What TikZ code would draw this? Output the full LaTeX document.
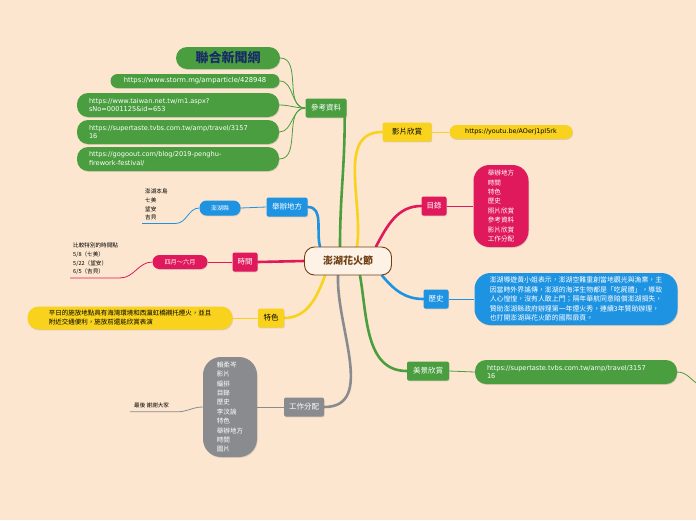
\documentclass[tikz,border=0pt]{standalone}
\usepackage{fontspec}
\setmainfont{Noto Sans CJK TC}
\newfontfamily\urlfont{DejaVu Sans}
\usetikzlibrary{positioning, shadows, backgrounds}

\definecolor{bgpeach}{HTML}{FCE6CF}
\definecolor{hubbrown}{HTML}{6E3F14}
\definecolor{mmgreen}{HTML}{4A9E3F}
\definecolor{mmyellow}{HTML}{F8D21C}
\definecolor{mmpink}{HTML}{E0195C}
\definecolor{mmblue}{HTML}{1E93E2}
\definecolor{mmgray}{HTML}{8A8B8F}
\definecolor{navy}{HTML}{172C66}

\begin{document}
\begin{tikzpicture}[
  x=1pt, y=-1pt,
  hub/.style = {draw=hubbrown, line width=0.9pt, fill=bgpeach!50!white, rounded corners=10pt,
                minimum width=87pt, minimum height=28pt, text=hubbrown,
                font=\fontsize{10}{11}\selectfont\bfseries},
  topic/.style = {rounded corners=2pt, minimum height=19pt, inner xsep=3pt, text=white,
                  font=\fontsize{7.5}{9}\selectfont,
                  drop shadow={opacity=0.25, shadow xshift=0.6pt, shadow yshift=-0.9pt}},
  pill/.style = {rounded corners=7pt, minimum height=14pt, inner xsep=6pt, text=white,
                 font=\urlfont\fontsize{6.8}{8.6}\selectfont,
                 drop shadow={opacity=0.25, shadow xshift=0.6pt, shadow yshift=-0.9pt}},
  urlbox/.style = {pill, rounded corners=11pt, minimum width=202pt, minimum height=24pt,
                   text width=178pt, align=left, inner xsep=12pt,
                   font=\urlfont\fontsize{6.6}{8.8}\selectfont},
  listbox/.style = {pill, rounded corners=16pt, align=left, inner xsep=8pt,
                    font=\fontsize{6.6}{9.4}\selectfont},
  note/.style = {align=left, inner sep=0pt, font=\fontsize{5.6}{8.6}\selectfont},
  branch/.style = {line width=2.6pt, line cap=round},
  twig/.style = {line width=0.8pt},
]
  \useasboundingbox (0,0) rectangle (696,520);
  \begin{scope}[on background layer]
    \fill[bgpeach] (0,0) rectangle (696,520);
  \end{scope}

  % centre
  \node[hub] (fest) at (348,261) {澎湖花火節};

  % references
  \node[topic, fill=mmgreen, minimum width=41pt] (refs) at (326,108) {參考資料};
  \node[pill, fill=mmgreen, minimum width=104pt, minimum height=22pt, rounded corners=11pt,
        text=navy, font=\fontsize{13}{15}\selectfont\bfseries] (udn) at (228,58) {聯合新聞網};
  \node[pill, fill=mmgreen, minimum width=169pt] (storm) at (195,81) {https://www.storm.mg/amparticle/428948};
  \node[urlbox, fill=mmgreen] (taiwan) at (178,105) {https://www.taiwan.net.tw/m1.aspx?\\sNo=0001125\&id=653};
  \node[urlbox, fill=mmgreen] (tvbs) at (178,132) {https://supertaste.tvbs.com.tw/amp/travel/3157\\16};
  \node[urlbox, fill=mmgreen] (gogo) at (178,159) {https://gogoout.com/blog/2019-penghu-\\firework-festival/};

  % video
  \node[topic, fill=mmyellow, text=black, minimum width=49pt] (video) at (407,132) {影片欣賞};
  \node[pill, fill=mmyellow, text=black, minimum width=123pt, font=\urlfont\fontsize{6.4}{8}\selectfont] (yt) at (511,132) {https://youtu.be/AOerj1pI5rk};

  % contents
  \node[topic, fill=mmpink, minimum width=25pt] (toc) at (434,206) {目錄};
  \node[listbox, fill=mmpink, minimum width=55pt, minimum height=82pt] (toclist) at (501,206)
    {舉辦地方\\時間\\特色\\歷史\\照片欣賞\\參考資料\\影片欣賞\\工作分配};

  % history
  \node[topic, fill=mmblue, minimum width=25pt] (hist) at (436,299) {歷史};
  \node[listbox, fill=mmblue, minimum width=203pt, minimum height=52pt, inner xsep=13pt,
        font=\fontsize{6.9}{9.6}\selectfont] (histtxt) at (576,299)
    {澎湖導遊黃小姐表示，澎湖空難重創當地觀光與漁業，主\\因當時外界謠傳，澎湖的海洋生物都是「吃屍體」，導致\\人心惶惶，沒有人敢上門；隔年華航同意賠償澎湖損失，\\贊助澎湖縣政府辦理第一年煙火秀，連續3年贊助辦理，\\也打開澎湖與花火節的國際扉頁。};

  % scenery
  \node[topic, fill=mmgreen, minimum width=42pt] (view) at (428,371) {美景欣賞};
  \node[urlbox, fill=mmgreen] (viewurl) at (576,372) {https://supertaste.tvbs.com.tw/amp/travel/3157\\16};
  \coordinate (offright) at (702,386);

  % place
  \node[topic, fill=mmblue, minimum width=41pt] (place) at (287,207) {舉辦地方};
  \node[pill, fill=mmblue, minimum width=41pt, minimum height=15pt, font=\fontsize{6}{7}\selectfont] (county) at (220,208) {澎湖縣};
  \node[note, anchor=north west] (islands) at (145,189) {澎湖本島\\七美\\望安\\吉貝};

  % time
  \node[topic, fill=mmpink, minimum width=25pt] (time) at (245,262) {時間};
  \node[pill, fill=mmpink, minimum width=55pt, font=\fontsize{6.2}{7}\selectfont] (months) at (180,262) {四月～六月};
  \node[note, anchor=north west] (dates) at (73,243) {比較特別的時間點\\5/8（七美）\\5/22（望安）\\6/5（吉貝）};

  % features
  \node[topic, fill=mmyellow, text=black, minimum width=26pt] (feat) at (271,318) {特色};
  \node[listbox, fill=mmyellow, text=black, minimum width=205pt, minimum height=23pt, rounded corners=11pt,
        inner xsep=14pt, font=\fontsize{6.5}{9}\selectfont] (feattxt) at (130,318)
    {平日的施放地點具有海灣環境和西瀛虹橋襯托煙火，並且\\附近交通便利，施放前還能欣賞表演};

  % work
  \node[topic, fill=mmgray, minimum width=40pt] (work) at (304,407) {工作分配};
  \node[listbox, fill=mmgray, minimum width=54pt, minimum height=100pt, rounded corners=18pt] (worklist) at (230,407)
    {賴柔岑\\影片\\編排\\目錄\\歷史\\李汶諭\\特色\\舉辦地方\\時間\\圖片};
  \node[note, anchor=west] (thanks) at (134,405) {最後 謝謝大家};

  \begin{scope}[on background layer]
    % main branches
    \draw[branch, mmgreen] ([xshift=-8pt]fest.north) to[out=90,in=-90] ([xshift=-2pt]refs.south east);
    \draw[branch, mmyellow] ([xshift=9pt]fest.north) to[out=82,in=180] (video.west);
    \draw[branch, mmpink] ([xshift=28pt]fest.north) to[out=62,in=180] (toc.west);
    \draw[branch, mmblue] ([xshift=-10pt]fest.south east) to[out=-50,in=180] (hist.west);
    \draw[branch, mmgreen] ([xshift=12pt]fest.south) to[out=-80,in=180] (view.west);
    \draw[branch, mmgray] ([xshift=-10pt]fest.south) to[out=-92,in=0] (work.east);
    \draw[branch, mmyellow] ([xshift=-23pt]fest.south) to[out=-110,in=0] (feat.east);
    \draw[branch, mmpink] (fest.west) -- (time.east);
    \draw[branch, mmblue] ([xshift=-28pt]fest.north) to[out=105,in=0] (place.east);

    % twigs
    \foreach \leaf in {udn, storm, taiwan, tvbs, gogo}
      \draw[twig, mmgreen] (refs.west) to[out=180,in=0] (\leaf.east);
    \draw[twig, mmyellow] (video.east) -- (yt.west);
    \draw[twig, mmpink] (toc.east) -- (toclist.west);
    \draw[twig, mmblue] (hist.east) -- (histtxt.west);
    \draw[twig, mmgreen] (view.east) -- (viewurl.west);
    \draw[twig, mmgreen] (viewurl.east) to[out=0,in=160] (offright);
    \draw[twig, mmblue] (place.west) -- (county.east);
    \draw[twig, mmblue] (county.west) to[out=180,in=0] ([xshift=8pt,yshift=-3pt]islands.south east)
      -- ([xshift=-3pt,yshift=-3pt]islands.south west);
    \draw[twig, mmpink] (time.west) -- (months.east);
    \draw[twig, mmpink] (months.west) to[out=180,in=0] ([xshift=2pt,yshift=-3pt]dates.south east)
      -- ([xshift=-3pt,yshift=-3pt]dates.south west);
    \draw[twig, mmyellow] (feat.west) -- (feattxt.east);
    \draw[twig, mmgray] (work.west) -- (worklist.east);
    \draw[twig, mmgray] (worklist.west) to[out=180,in=0] ([xshift=8pt,yshift=-4pt]thanks.south east)
      -- ([xshift=-4pt,yshift=-4pt]thanks.south west);
  \end{scope}
\end{tikzpicture}
\end{document}
